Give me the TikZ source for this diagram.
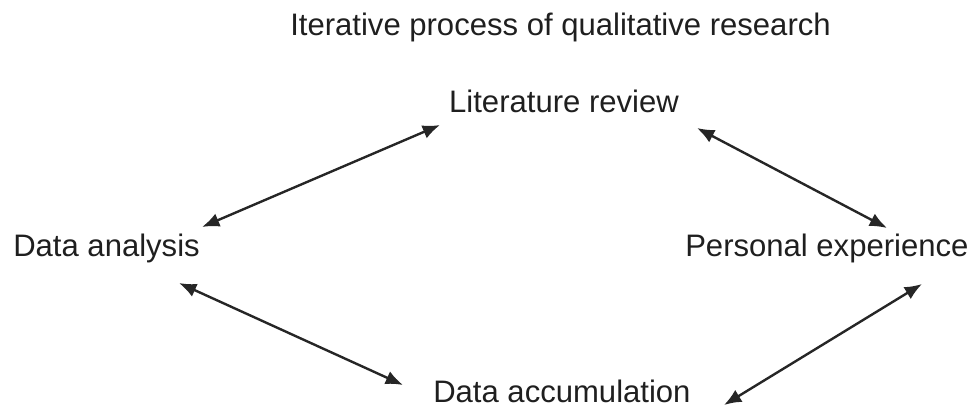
\documentclass[tikz,border=0pt]{standalone}
\usepackage{fontspec}
\setmainfont{Liberation Sans}
\usetikzlibrary{arrows.meta,positioning}

\begin{document}
\begin{tikzpicture}[x=0.75pt,y=-0.75pt,
		label/.style={inner sep=0pt,font=\fontsize{23.3}{28}\selectfont,text=black!88},
		link/.style={{Latex[length=13pt,width=10.5pt]}-{Latex[length=13pt,width=10.5pt]},line width=1.8pt,draw=black!85}]
				\useasboundingbox (0,0) rectangle (975,407);
				\node[label,anchor=base west] (title) at (290,35) {Iterative process of qualitative research};
				\node[label,anchor=base] (lit) at (564,112) {Literature review};
				\node[label,anchor=base west] (ana) at (13,256) {Data analysis};
				\node[label,anchor=base west] (exp) at (685,256) {Personal experience};
				\node[label,anchor=base west] (acc) at (433,402) {Data accumulation};

				\coordinate (lit-w) at (440,125);
				\coordinate (lit-e) at (697,128);
				\coordinate (ana-ne) at (202,227);
				\coordinate (ana-se) at (179,283);
				\coordinate (exp-nw) at (887,228);
				\coordinate (exp-sw) at (922,284);
				\coordinate (acc-w) at (403,385);
				\coordinate (acc-e) at (724,405);

				\draw [link] (lit-w) to (ana-ne);
				\draw [link] (lit-e) to (exp-nw);
				\draw [link] (ana-se) to (acc-w);
				\draw [link] (exp-sw) to (acc-e);
		\end{tikzpicture}
\end{document}
